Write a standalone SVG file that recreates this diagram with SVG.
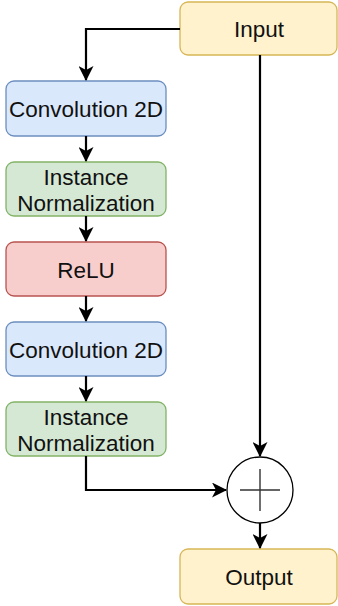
<svg xmlns="http://www.w3.org/2000/svg" width="338" height="606" viewBox="0 0 338 606">
  <style>
    .box { stroke-width: 1.3; }
    .blue { fill: #dae8fc; stroke: #6c8ebf; }
    .green { fill: #d5e8d4; stroke: #82b366; }
    .red { fill: #f8cecc; stroke: #b85450; }
    .yellow { fill: #fff2cc; stroke: #d6b656; }
    .lbl { font-family: "Liberation Sans", Arial, Helvetica, sans-serif; font-size: 22.5px; fill: #111; text-anchor: middle; }
    .edge { fill: none; stroke: #000; stroke-width: 2.2; }
  </style>
  <defs>
    <marker id="arr" viewBox="0 0 15 15" markerWidth="15" markerHeight="15" refX="14" refY="7.5" orient="auto" markerUnits="userSpaceOnUse">
      <path d="M0,0 L15,7.5 L0,15 L4,7.5 Z" fill="#000"/>
    </marker>
  </defs>

  <g id="input">
    <rect class="box yellow" x="180" y="2" width="157" height="53" rx="8"/>
    <text class="lbl" x="259" y="36.5">Input</text>
  </g>
  <g id="conv1">
    <rect class="box blue" x="6" y="81" width="160" height="55" rx="8"/>
    <text class="lbl" x="86" y="116.5">Convolution 2D</text>
  </g>
  <g id="norm1">
    <rect class="box green" x="6" y="162" width="160" height="54" rx="8"/>
    <text class="lbl" x="86" y="184.5">Instance</text>
    <text class="lbl" x="86" y="210.5">Normalization</text>
  </g>
  <g id="relu">
    <rect class="box red" x="6" y="242" width="160" height="54" rx="8"/>
    <text class="lbl" x="86" y="277.5">ReLU</text>
  </g>
  <g id="conv2">
    <rect class="box blue" x="6" y="322" width="160" height="54" rx="8"/>
    <text class="lbl" x="86" y="357.5">Convolution 2D</text>
  </g>
  <g id="norm2">
    <rect class="box green" x="6" y="402" width="160" height="54" rx="8"/>
    <text class="lbl" x="86" y="424.5">Instance</text>
    <text class="lbl" x="86" y="450.5">Normalization</text>
  </g>
  <g id="add">
    <circle cx="260" cy="490" r="33" fill="#fff" stroke="#000" stroke-width="1.3"/>
    <path d="M240,490 H280 M260,469 V511" stroke="#333" stroke-width="1.4" fill="none"/>
  </g>
  <g id="output">
    <rect class="box yellow" x="180" y="549" width="157" height="55" rx="8"/>
    <text class="lbl" x="259" y="584.5">Output</text>
  </g>

  <g id="connectors">
    <path class="edge" d="M180,29 H86 V80" marker-end="url(#arr)"/>
    <path class="edge" d="M86,136 V161" marker-end="url(#arr)"/>
    <path class="edge" d="M86,216 V241" marker-end="url(#arr)"/>
    <path class="edge" d="M86,296 V321" marker-end="url(#arr)"/>
    <path class="edge" d="M86,376 V401" marker-end="url(#arr)"/>
    <path class="edge" d="M260,55 V456" marker-end="url(#arr)"/>
    <path class="edge" d="M86,456 V490 H226" marker-end="url(#arr)"/>
    <path class="edge" d="M260,523 V548" marker-end="url(#arr)"/>
  </g>
</svg>
